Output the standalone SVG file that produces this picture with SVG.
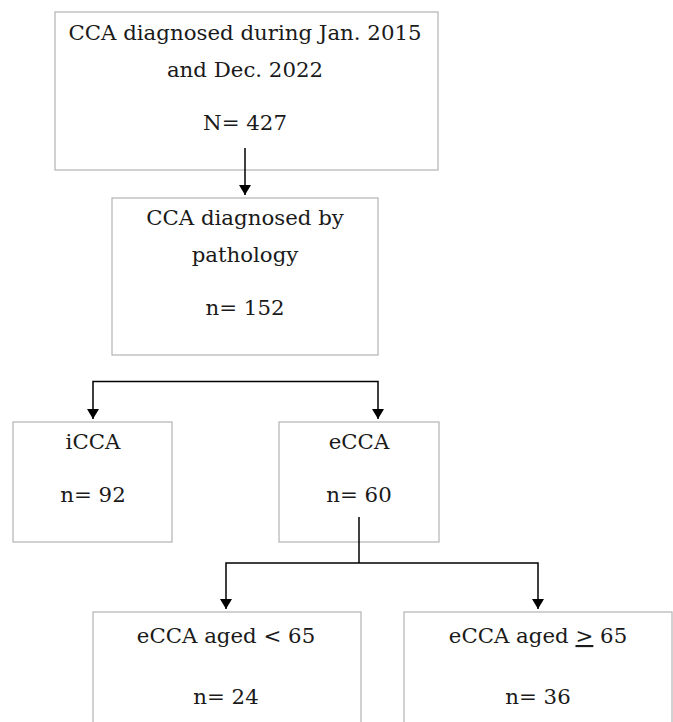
<svg xmlns="http://www.w3.org/2000/svg" width="673" height="722" viewBox="0 0 673 722">
<style>
.box{fill:#fff;stroke:#b3b3b3;stroke-width:1.2}
.t{font-family:"DejaVu Serif",serif;font-size:21.3px;fill:#1a1a1a;text-anchor:middle}
.c{fill:none;stroke:#000;stroke-width:1.5}
</style>
<defs>
<marker id="ah" viewBox="0 0 10 12" refX="10" refY="6" markerWidth="10" markerHeight="12" markerUnits="userSpaceOnUse" orient="auto">
<path d="M0,0 L10,6 L0,12 Z" fill="#000"/>
</marker>
</defs>
<rect width="673" height="722" fill="#fff"/>
<g id="n1">
<rect class="box" x="55" y="12" width="383" height="158"/>
<text class="t" x="245" y="40">CCA diagnosed during Jan. 2015</text>
<text class="t" x="245" y="77">and Dec. 2022</text>
<text class="t" x="245" y="130">N= 427</text>
</g>
<g id="n2">
<rect class="box" x="112" y="198" width="266" height="157"/>
<text class="t" x="245" y="225">CCA diagnosed by</text>
<text class="t" x="245" y="262">pathology</text>
<text class="t" x="245" y="315">n= 152</text>
</g>
<g id="n3">
<rect class="box" x="13" y="422" width="159" height="120"/>
<text class="t" x="93" y="449">iCCA</text>
<text class="t" x="93" y="502">n= 92</text>
</g>
<g id="n4">
<rect class="box" x="279" y="422" width="160" height="120"/>
<text class="t" x="359" y="449">eCCA</text>
<text class="t" x="359" y="502">n= 60</text>
</g>
<g id="n5">
<rect class="box" x="93" y="612" width="268" height="130"/>
<text class="t" x="226" y="643">eCCA aged &lt; 65</text>
<text class="t" x="226" y="704">n= 24</text>
</g>
<g id="n6">
<rect class="box" x="404" y="612" width="268" height="130"/>
<text class="t" x="538" y="643">eCCA aged <tspan text-decoration="underline">&gt;</tspan> 65</text>
<text class="t" x="538" y="704">n= 36</text>
</g>
<g id="connectors">
<path class="c" d="M245,148 V195" marker-end="url(#ah)"/>
<path class="c" d="M245,381.5 H93 V419" marker-end="url(#ah)"/>
<path class="c" d="M245,381.5 H378 V419" marker-end="url(#ah)"/>
<path class="c" d="M359,517 V563"/>
<path class="c" d="M359,563 H226 V609" marker-end="url(#ah)"/>
<path class="c" d="M359,563 H538 V609" marker-end="url(#ah)"/>
</g>
</svg>
